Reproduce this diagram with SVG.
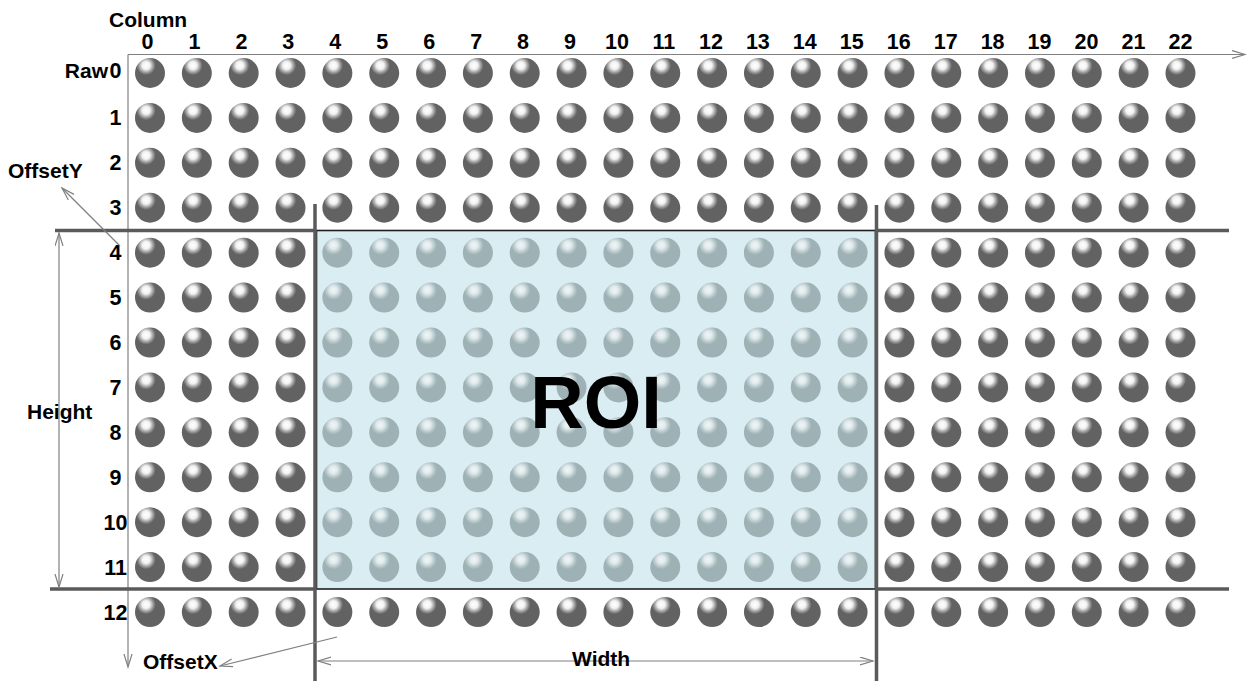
<svg xmlns="http://www.w3.org/2000/svg" xmlns:xlink="http://www.w3.org/1999/xlink" width="1247" height="681" viewBox="0 0 1247 681">
<style>
text{font-family:"Liberation Sans",Arial,sans-serif;font-weight:bold;fill:#000}
.num{font-size:21.5px;text-anchor:middle}
.lbl{font-size:21px}
.thin{stroke:#808080;stroke-width:1.2;fill:none}
.thick{stroke:#5a5a5a;stroke-width:3.5;fill:none}
</style>
<defs>
<radialGradient id="gDark" cx="0.37" cy="0.25" r="0.32">
<stop offset="0" stop-color="#ffffff"/>
<stop offset="0.4" stop-color="#f2f2f2"/>
<stop offset="0.75" stop-color="#9a9a9a"/>
<stop offset="1" stop-color="#626262"/>
</radialGradient>
<radialGradient id="gBlue" cx="0.37" cy="0.25" r="0.32">
<stop offset="0" stop-color="#f0f6f7"/>
<stop offset="0.4" stop-color="#e0eaec"/>
<stop offset="0.75" stop-color="#b8c8cb"/>
<stop offset="1" stop-color="#9eb2b6"/>
</radialGradient>
<circle id="sd" r="15" fill="url(#gDark)"/>
<circle id="sb" r="15" fill="url(#gBlue)"/>
<marker id="arr" markerUnits="userSpaceOnUse" markerWidth="15" markerHeight="10" refX="13" refY="4.5" orient="auto-start-reverse" viewBox="0 0 15 10">
<path d="M0,0.5 L13,4.5 L0,8.5" fill="none" stroke="#808080" stroke-width="1.2"/>
</marker>
<g id="rowA">
<use href="#sd" x="150"/><use href="#sd" x="196.84"/><use href="#sd" x="243.68"/><use href="#sd" x="290.52"/>
<use href="#sd" x="337.36"/><use href="#sd" x="384.2"/><use href="#sd" x="431.04"/><use href="#sd" x="477.88"/>
<use href="#sd" x="524.72"/><use href="#sd" x="571.56"/><use href="#sd" x="618.4"/><use href="#sd" x="665.24"/>
<use href="#sd" x="712.08"/><use href="#sd" x="758.92"/><use href="#sd" x="805.76"/><use href="#sd" x="852.6"/>
<use href="#sd" x="899.44"/><use href="#sd" x="946.28"/><use href="#sd" x="993.12"/><use href="#sd" x="1039.96"/>
<use href="#sd" x="1086.8"/><use href="#sd" x="1133.64"/><use href="#sd" x="1180.48"/>
</g>
<g id="rowB">
<use href="#sd" x="150"/><use href="#sd" x="196.84"/><use href="#sd" x="243.68"/><use href="#sd" x="290.52"/>
<use href="#sb" x="337.36"/><use href="#sb" x="384.2"/><use href="#sb" x="431.04"/><use href="#sb" x="477.88"/>
<use href="#sb" x="524.72"/><use href="#sb" x="571.56"/><use href="#sb" x="618.4"/><use href="#sb" x="665.24"/>
<use href="#sb" x="712.08"/><use href="#sb" x="758.92"/><use href="#sb" x="805.76"/><use href="#sb" x="852.6"/>
<use href="#sd" x="899.44"/><use href="#sd" x="946.28"/><use href="#sd" x="993.12"/><use href="#sd" x="1039.96"/>
<use href="#sd" x="1086.8"/><use href="#sd" x="1133.64"/><use href="#sd" x="1180.48"/>
</g>
</defs>
<rect width="1247" height="681" fill="#fff"/>

<g id="axes">
<line class="thin" x1="128" y1="54.5" x2="1245" y2="54.5" marker-end="url(#arr)"/>
<line class="thin" x1="128" y1="54.5" x2="128" y2="667" marker-end="url(#arr)"/>
<text class="lbl" x="109" y="27">Column</text>
</g>

<g id="roi">
<rect x="316.5" y="230.5" width="559" height="358.5" fill="#daedf2" stroke="#1e1e1e" stroke-width="1.6"/>
</g>

<g id="boundaries">
<line class="thick" x1="55" y1="230.5" x2="316" y2="230.5"/>
<line class="thick" x1="876" y1="230.5" x2="1229" y2="230.5"/>
<line class="thick" x1="50" y1="589" x2="316" y2="589"/>
<line class="thick" x1="876" y1="589" x2="1229" y2="589"/>
<line class="thick" x1="315" y1="204" x2="315" y2="681"/>
<line class="thick" x1="876.5" y1="205" x2="876.5" y2="681"/>
</g>

<g id="grid">
<use href="#rowA" y="73"/>
<use href="#rowA" y="117.92"/>
<use href="#rowA" y="162.84"/>
<use href="#rowA" y="207.76"/>
<use href="#rowB" y="252.68"/>
<use href="#rowB" y="297.6"/>
<use href="#rowB" y="342.52"/>
<use href="#rowB" y="387.44"/>
<use href="#rowB" y="432.36"/>
<use href="#rowB" y="477.28"/>
<use href="#rowB" y="522.2"/>
<use href="#rowB" y="567.12"/>
<use href="#rowA" y="612.04"/>
</g>

<g id="roi-label">
<text x="596" y="428" font-size="74" text-anchor="middle">ROI</text>
</g>

<g id="column-labels">
<text class="num" x="147.5" y="49">0</text>
<text class="num" x="194.45" y="49">1</text>
<text class="num" x="241.4" y="49">2</text>
<text class="num" x="288.35" y="49">3</text>
<text class="num" x="335.3" y="49">4</text>
<text class="num" x="382.25" y="49">5</text>
<text class="num" x="429.2" y="49">6</text>
<text class="num" x="476.15" y="49">7</text>
<text class="num" x="523.1" y="49">8</text>
<text class="num" x="570.05" y="49">9</text>
<text class="num" x="617" y="49">10</text>
<text class="num" x="663.95" y="49">11</text>
<text class="num" x="710.9" y="49">12</text>
<text class="num" x="757.85" y="49">13</text>
<text class="num" x="804.8" y="49">14</text>
<text class="num" x="851.75" y="49">15</text>
<text class="num" x="898.7" y="49">16</text>
<text class="num" x="945.65" y="49">17</text>
<text class="num" x="992.6" y="49">18</text>
<text class="num" x="1039.55" y="49">19</text>
<text class="num" x="1086.5" y="49">20</text>
<text class="num" x="1133.45" y="49">21</text>
<text class="num" x="1180.4" y="49">22</text>
</g>

<g id="row-labels">
<text class="lbl" x="108" y="77.5" text-anchor="end">Raw</text>
<text class="num" x="115.5" y="77.5">0</text>
<text class="num" x="115.5" y="125.4">1</text>
<text class="num" x="115.5" y="170.3">2</text>
<text class="num" x="115.5" y="215.3">3</text>
<text class="num" x="115.5" y="260.2">4</text>
<text class="num" x="115.5" y="305.1">5</text>
<text class="num" x="115.5" y="350">6</text>
<text class="num" x="115.5" y="394.9">7</text>
<text class="num" x="115.5" y="439.9">8</text>
<text class="num" x="115.5" y="484.8">9</text>
<text class="num" x="115.5" y="529.7">10</text>
<text class="num" x="115.5" y="574.6">11</text>
<text class="num" x="115.5" y="619.5">12</text>
</g>

<g id="connectors">
<line class="thin" x1="59" y1="587" x2="59" y2="233" marker-start="url(#arr)" marker-end="url(#arr)"/>
<line class="thin" x1="120" y1="246" x2="62" y2="188" marker-end="url(#arr)"/>
<line class="thin" x1="337" y1="637" x2="220" y2="666" marker-end="url(#arr)"/>
<line class="thin" x1="873" y1="661" x2="318" y2="661" marker-start="url(#arr)" marker-end="url(#arr)"/>
</g>

<g id="dimension-labels">
<text class="lbl" x="8" y="178">OffsetY</text>
<text class="lbl" x="27" y="419">Height</text>
<text class="lbl" x="143" y="669">OffsetX</text>
<text class="lbl" x="572" y="666">Width</text>
</g>
</svg>
